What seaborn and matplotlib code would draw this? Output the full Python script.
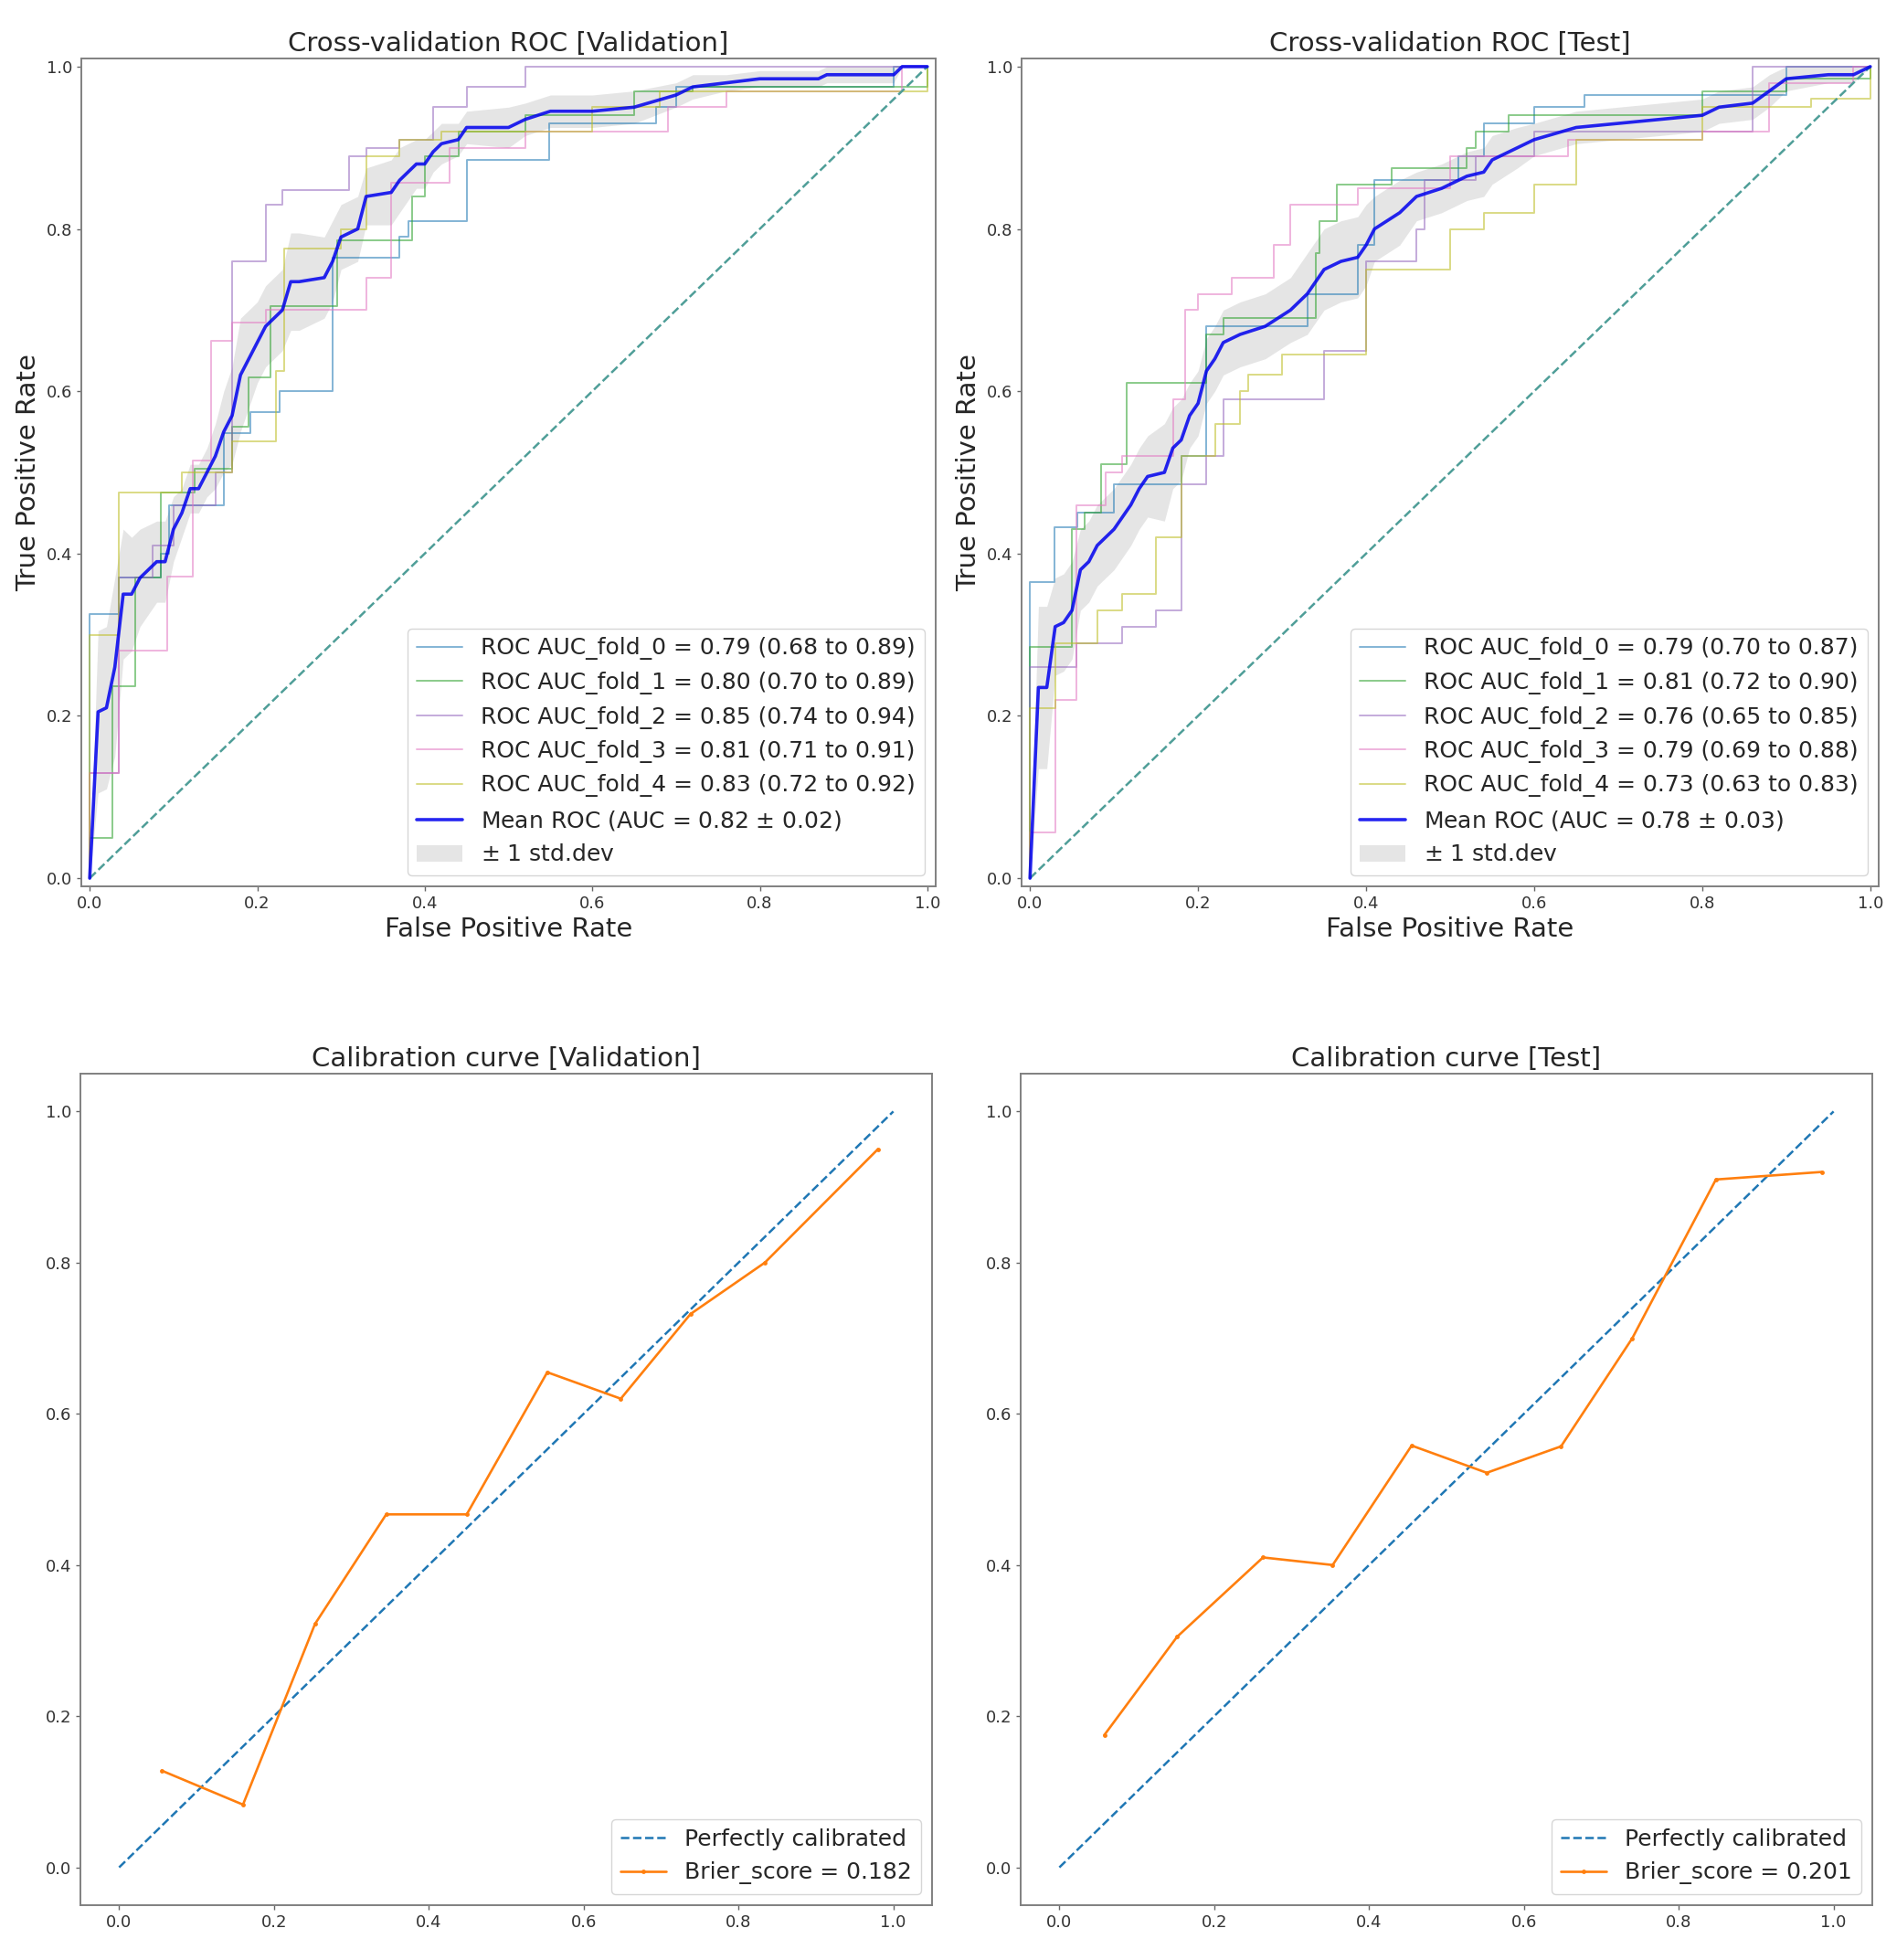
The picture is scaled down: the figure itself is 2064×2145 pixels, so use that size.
import numpy as np
import matplotlib
matplotlib.use('Agg')
import matplotlib.pyplot as plt
import seaborn as sns

val_fold_fpr = [
    [0, 0, 0.035, 0.085, 0.095, 0.16, 0.192, 0.227, 0.29, 0.37, 0.38, 0.45, 0.548, 0.676, 0.70, 0.96, 1.0],
    [0, 0, 0.027, 0.054, 0.085, 0.125, 0.17, 0.19, 0.216, 0.295, 0.385, 0.40, 0.44, 0.52, 0.65, 0.72, 1.0, 1.0],
    [0, 0, 0.035, 0.075, 0.10, 0.15, 0.17, 0.21, 0.23, 0.31, 0.33, 0.37, 0.41, 0.45, 0.52, 1.0],
    [0, 0, 0.035, 0.092, 0.123, 0.145, 0.17, 0.21, 0.33, 0.36, 0.43, 0.52, 0.69, 0.76, 0.97, 1.0],
    [0, 0, 0.035, 0.11, 0.17, 0.222, 0.232, 0.30, 0.33, 0.37, 0.42, 0.60, 0.68, 1.0, 1.0],
]
val_fold_tpr = [
    [0, 0.325, 0.37, 0.40, 0.46, 0.548, 0.574, 0.60, 0.765, 0.79, 0.81, 0.885, 0.93, 0.95, 0.975, 1.0, 1.0],
    [0, 0.05, 0.237, 0.37, 0.475, 0.505, 0.556, 0.617, 0.705, 0.786, 0.84, 0.89, 0.92, 0.94, 0.97, 0.975, 0.975, 1.0],
    [0, 0.13, 0.37, 0.41, 0.46, 0.50, 0.76, 0.83, 0.848, 0.89, 0.90, 0.91, 0.95, 0.975, 1.0, 1.0],
    [0, 0.13, 0.28, 0.372, 0.515, 0.662, 0.685, 0.70, 0.74, 0.857, 0.90, 0.92, 0.95, 0.97, 1.0, 1.0],
    [0, 0.30, 0.475, 0.50, 0.538, 0.625, 0.776, 0.80, 0.89, 0.91, 0.92, 0.95, 0.97, 0.975, 1.0],
]
val_labels = [
    'ROC AUC_fold_0 = 0.79 (0.68 to 0.89)',
    'ROC AUC_fold_1 = 0.80 (0.70 to 0.89)',
    'ROC AUC_fold_2 = 0.85 (0.74 to 0.94)',
    'ROC AUC_fold_3 = 0.81 (0.71 to 0.91)',
    'ROC AUC_fold_4 = 0.83 (0.72 to 0.92)',
]
val_mean_fpr = [0, .01, .02, .03, .04, .05, .06, .08, .09, .10, .11, .12, .13, .14, .15, .16, .17, .18,
                .19, .20, .21, .22, .23, .24, .25, .28, .29, .30, .32, .33, .36, .37, .38, .39, .40, .41,
                .42, .44, .45, .50, .52, .55, .60, .65, .70, .72, .76, .80, .87, .88, .96, .97, 1.0]
val_mean_tpr = [0, .205, .21, .26, .35, .35, .37, .39, .39, .43, .45, .48, .48, .50, .52, .55, .57, .62,
                .64, .66, .68, .69, .70, .735, .735, .74, .76, .79, .80, .84, .845, .86, .87, .88, .88, .895,
                .905, .91, .925, .925, .935, .945, .945, .95, .965, .975, .98, .985, .985, .99, .99, 1.0, 1.0]
val_std_tpr = [0, .10, .10, .11, .08, .07, .06, .05, .05, .04, .03, .03, .03, .03, .04, .05, .06, .07,
               .06, .05, .05, .05, .05, .06, .06, .05, .05, .04, .04, .035, .04, .04, .035, .03, .03, .025,
               .025, .02, .02, .025, .02, .02, .02, .02, .015, .015, .01, .01, .01, .01, .01, 0, 0]
val_mean_label = 'Mean ROC (AUC = 0.82 $\\pm$ 0.02)'

test_fold_fpr = [
    [0, 0, 0.029, 0.056, 0.10, 0.18, 0.21, 0.33, 0.39, 0.41, 0.51, 0.54, 0.60, 0.66, 0.90, 1.0],
    [0, 0, 0.05, 0.065, 0.085, 0.115, 0.21, 0.23, 0.34, 0.345, 0.365, 0.43, 0.52, 0.53, 0.57, 0.80, 0.90, 1.0],
    [0, 0, 0.055, 0.11, 0.15, 0.18, 0.21, 0.23, 0.35, 0.40, 0.46, 0.47, 0.53, 0.60, 0.86, 1.0],
    [0, 0, 0.03, 0.055, 0.09, 0.11, 0.17, 0.185, 0.20, 0.24, 0.29, 0.31, 0.39, 0.50, 0.64, 0.80, 0.88, 0.98, 1.0],
    [0, 0, 0.03, 0.08, 0.11, 0.15, 0.18, 0.22, 0.25, 0.26, 0.30, 0.40, 0.50, 0.54, 0.60, 0.65, 0.80, 0.93, 1.0],
]
test_fold_tpr = [
    [0, 0.365, 0.432, 0.45, 0.485, 0.52, 0.68, 0.72, 0.78, 0.86, 0.89, 0.93, 0.95, 0.965, 1.0, 1.0],
    [0, 0.285, 0.43, 0.45, 0.51, 0.61, 0.67, 0.69, 0.77, 0.81, 0.855, 0.875, 0.90, 0.92, 0.94, 0.97, 0.985, 1.0],
    [0, 0.26, 0.29, 0.31, 0.33, 0.485, 0.52, 0.59, 0.65, 0.76, 0.80, 0.86, 0.89, 0.92, 1.0, 1.0],
    [0, 0.056, 0.22, 0.46, 0.50, 0.52, 0.59, 0.70, 0.72, 0.74, 0.78, 0.83, 0.85, 0.89, 0.91, 0.92, 0.98, 1.0, 1.0],
    [0, 0.21, 0.29, 0.33, 0.35, 0.42, 0.52, 0.56, 0.60, 0.62, 0.645, 0.75, 0.80, 0.82, 0.855, 0.91, 0.95, 0.96, 1.0],
]
test_labels = [
    'ROC AUC_fold_0 = 0.79 (0.70 to 0.87)',
    'ROC AUC_fold_1 = 0.81 (0.72 to 0.90)',
    'ROC AUC_fold_2 = 0.76 (0.65 to 0.85)',
    'ROC AUC_fold_3 = 0.79 (0.69 to 0.88)',
    'ROC AUC_fold_4 = 0.73 (0.63 to 0.83)',
]
test_mean_fpr = [0, .01, .02, .03, .04, .05, .06, .07, .08, .10, .12, .13, .14, .16, .17, .18, .19, .20,
                 .21, .22, .23, .25, .28, .31, .33, .35, .37, .39, .40, .41, .44, .46, .49, .52, .54, .55,
                 .58, .60, .65, .70, .75, .80, .82, .86, .88, .90, .95, .98, 1.0]
test_mean_tpr = [0, .235, .235, .31, .315, .33, .38, .39, .41, .43, .46, .48, .495, .50, .53, .54, .57, .585,
                 .625, .64, .66, .67, .68, .70, .72, .75, .76, .765, .78, .80, .82, .84, .85, .865, .87, .885,
                 .90, .91, .925, .93, .935, .94, .95, .955, .97, .985, .99, .99, 1.0]
test_std_tpr = [0, .10, .10, .06, .06, .06, .05, .05, .05, .05, .05, .05, .05, .06, .05, .05, .04, .04,
                .04, .04, .04, .04, .04, .04, .05, .05, .05, .05, .05, .04, .04, .03, .03, .03, .03, .03,
                .025, .02, .02, .02, .02, .02, .02, .02, .02, .015, .01, .01, 0]
test_mean_label = 'Mean ROC (AUC = 0.78 $\\pm$ 0.03)'

# ---- calibration curves ----
val_prob_pred = [0.055, 0.16, 0.253, 0.345, 0.449, 0.553, 0.648, 0.738, 0.834, 0.98]
val_prob_true = [0.128, 0.083, 0.322, 0.467, 0.467, 0.655, 0.62, 0.732, 0.80, 0.95]
test_prob_pred = [0.058, 0.152, 0.263, 0.353, 0.455, 0.552, 0.648, 0.74, 0.848, 0.985]
test_prob_true = [0.175, 0.305, 0.41, 0.40, 0.558, 0.522, 0.557, 0.70, 0.91, 0.92]
val_brier = 'Brier_score = 0.182'
test_brier = 'Brier_score = 0.201'

fold_colors = ['#1f77b4', '#2ca02c', '#9467bd', '#e377c2', '#bcbd22']


def style_axes(ax):
    for sp in ax.spines.values():
        sp.set_color('0.5')
        sp.set_linewidth(1.4)
    ax.tick_params(labelsize=13, length=3.5, width=1.0, color='0.4', direction='out', labelcolor='0.2')


def draw_roc(ax, fold_fpr, fold_tpr, labels, mean_fpr, mean_tpr, std_tpr, mean_label, title):
    for fpr, tpr, lab, col in zip(fold_fpr, fold_tpr, labels, fold_colors):
        sns.lineplot(x=fpr, y=tpr, ax=ax, estimator=None, sort=False, drawstyle='steps-post',
                     color=col, lw=1.4, alpha=0.55, label=lab)
    ax.plot([0, 1], [0, 1], linestyle='--', lw=1.8, color='#4f9e98')
    sns.lineplot(x=mean_fpr, y=mean_tpr, ax=ax, estimator=None, sort=False,
                 color='#0000ee', lw=2.6, alpha=0.85, label=mean_label)
    m = np.array(mean_tpr)
    s = np.array(std_tpr)
    ax.fill_between(mean_fpr, np.maximum(m - s, 0), np.minimum(m + s, 1),
                    color='grey', alpha=0.2, lw=0, label='$\\pm$ 1 std.dev')
    ax.set_xlim(-0.01, 1.01)
    ax.set_ylim(-0.01, 1.01)
    ax.set_xticks(np.linspace(0, 1, 6))
    ax.set_yticks(np.linspace(0, 1, 6))
    ax.set_xlabel('False Positive Rate', fontsize=21)
    ax.set_ylabel('True Positive Rate', fontsize=21)
    ax.set_title(title, fontsize=21)
    ax.legend(loc='lower right', fontsize=18, frameon=True)
    style_axes(ax)


def draw_calibration(ax, prob_pred, prob_true, brier, title):
    ax.plot([0, 1], [0, 1], linestyle='--', lw=1.8, color='#1f77b4', label='Perfectly calibrated')
    sns.lineplot(x=prob_pred, y=prob_true, ax=ax, estimator=None, sort=False, color='#ff7f0e',
                 lw=1.9, marker='.', markersize=7, markeredgewidth=0, label=brier)
    ax.set_xticks(np.linspace(0, 1, 6))
    ax.set_yticks(np.linspace(0, 1, 6))
    ax.set_title(title, fontsize=21)
    ax.legend(loc='lower right', fontsize=18, frameon=True)
    style_axes(ax)


sns.set_theme(style='ticks')
plt.rcParams['font.family'] = ['DejaVu Sans']

fig = plt.figure(figsize=(20.64, 21.45), dpi=100)
W, H = 2064.0, 2145.0

ax_roc_val = fig.add_axes([89 / W, 1 - 970 / H, 935 / W, 906 / H])
ax_roc_test = fig.add_axes([1118 / W, 1 - 970 / H, 938 / W, 906 / H])
ax_cal_val = fig.add_axes([88 / W, 1 - 2085 / H, 932 / W, 910 / H])
ax_cal_test = fig.add_axes([1117 / W, 1 - 2085 / H, 932 / W, 910 / H])

draw_roc(ax_roc_val, val_fold_fpr, val_fold_tpr, val_labels, val_mean_fpr, val_mean_tpr,
         val_std_tpr, val_mean_label, 'Cross-validation ROC [Validation]')
draw_roc(ax_roc_test, test_fold_fpr, test_fold_tpr, test_labels, test_mean_fpr, test_mean_tpr,
         test_std_tpr, test_mean_label, 'Cross-validation ROC [Test]')
draw_calibration(ax_cal_val, val_prob_pred, val_prob_true, val_brier, 'Calibration curve [Validation]')
draw_calibration(ax_cal_test, test_prob_pred, test_prob_true, test_brier, 'Calibration curve [Test]')

fig.savefig('out.png', dpi=100, facecolor='white')
